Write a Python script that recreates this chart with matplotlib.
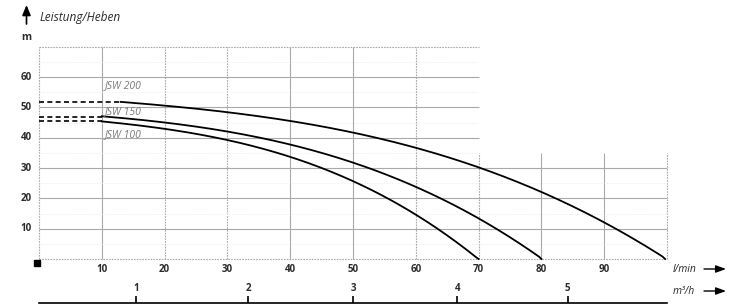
import numpy as np
import matplotlib
matplotlib.use("Agg")
import matplotlib.pyplot as plt

W, H = 740, 308

# pump curves: flow (l/min) vs head (m)
JSW200_DASH_X = [0, 13]
JSW200_DASH_Y = [51.7, 51.7]
JSW200_X = [13, 20, 30, 40, 50, 60, 70, 80, 90, 99.7]
JSW200_Y = [51.7, 50.6, 48.6, 45.6, 41.6, 36.5, 30.0, 22.2, 12.5, 0]

JSW150_DASH_X = [0, 10]
JSW150_DASH_Y = [46.9, 46.9]
JSW150_X = [10, 20, 30, 40, 50, 60, 70, 80]
JSW150_Y = [46.9, 45.3, 42.1, 37.6, 31.5, 23.8, 13.8, 0]

JSW100_DASH_X = [0, 10]
JSW100_DASH_Y = [45.5, 45.5]
JSW100_X = [10, 20, 30, 40, 50, 60, 70]
JSW100_Y = [45.5, 42.6, 39.3, 34.0, 25.5, 14.5, 0]

LABELS = ["JSW 200", "JSW 150", "JSW 100"]
LABEL_Y = [57.3, 48.7, 41.0]

X_TICKS = [10, 20, 30, 40, 50, 60, 70, 80, 90]
Y_TICKS = [10, 20, 30, 40, 50, 60]
M3H_POS = [15.4, 33.3, 50.0, 66.6, 84.2]
M3H_LABELS = ["1", "2", "3", "4", "5"]

FONT = "Open Sans"
GRID = "#a9a9a9"
TXT = "#2b2b2b"


def fx(px):
    return px / W


def fy(py):
    return 1 - py / H


fig = plt.figure(figsize=(W / 100, H / 100), dpi=100)
ax = fig.add_axes([fx(39), fy(259), (667 - 39) / W, (259 - 46.7) / H])
ax.set_xlim(0, 100)
ax.set_ylim(0, 70)
ax.axis("off")

# grid: L-shaped area
dotted_x = {0, 20, 30, 60, 70, 100}
for x in range(0, 101, 10):
    top = 70 if x <= 60 else 35
    ls = (0, (1.5, 1)) if x in dotted_x else "-"
    ax.vlines(x, 0, top, color=GRID, lw=0.8, linestyles=ls, clip_on=False)
for y in range(0, 71, 10):
    right = 100 if y <= 30 else 70
    ls = (0, (1.5, 1)) if y in (0, 70) else "-"
    ax.hlines(y, 0, right, color=GRID, lw=0.8, linestyles=ls, clip_on=False)
for y in range(5, 70, 10):
    right = 100 if y <= 30 else 70
    ax.hlines(y, 0, right, color="#e4e4e4", lw=0.6, linestyles=(0, (1, 2)), clip_on=False)

# curves
for dx, dy, sx, sy in [
    (JSW200_DASH_X, JSW200_DASH_Y, JSW200_X, JSW200_Y),
    (JSW150_DASH_X, JSW150_DASH_Y, JSW150_X, JSW150_Y),
    (JSW100_DASH_X, JSW100_DASH_Y, JSW100_X, JSW100_Y),
]:
    ax.plot(dx, dy, color="black", lw=1.2, dashes=(3, 2), clip_on=False)
    xs = np.linspace(sx[0], sx[-1], 200)
    # smooth through the read points with a cubic fit
    coef = np.polyfit(sx, sy, 3)
    ys = np.polyval(coef, xs)
    ys[-1] = 0
    ax.plot(xs, ys, color="black", lw=1.3, clip_on=False)

for lab, ly in zip(LABELS, LABEL_Y):
    ax.text(10.5, ly, lab, fontsize=7.5, style="italic", color="#7a7a7a",
            family=FONT, va="center", ha="left")

for x in X_TICKS:
    fig.text(fx(39 + 6.28 * x), fy(269), str(x), fontsize=7, fontweight="bold",
             color=TXT, family=FONT, ha="center", va="center")
for y in Y_TICKS:
    fig.text(fx(32), fy(259 - 3.033 * y), str(y), fontsize=7, fontweight="bold",
             color=TXT, family=FONT, ha="right", va="center")
fig.text(fx(26.5), fy(37.5), "m", fontsize=7.5, fontweight="bold", color=TXT,
         family=FONT, ha="center", va="center")

# origin marker
fig.patches.append(plt.Rectangle((fx(34), fy(266)), 6 / W, 6 / H, color="black",
                                 transform=fig.transFigure, figure=fig))

# y-axis title with arrow
fig.text(fx(39), fy(18), "Leistung/Heben", fontsize=8.6, style="italic",
         color=TXT, family=FONT, ha="left", va="center")
fig.add_artist(matplotlib.patches.FancyArrowPatch(
    (fx(26.5), fy(24)), (fx(26.5), fy(5)), transform=fig.transFigure,
    arrowstyle="-|>,head_length=6,head_width=2.5", lw=1.2, color="black",
    shrinkA=0, shrinkB=0))

# secondary flow axis in m3/h
ax2 = fig.add_axes([fx(39), fy(302.7), (667 - 39) / W, 0.0001])
ax2.set_xlim(0, 100)
ax2.set_yticks([])
for s in ["left", "right", "bottom"]:
    ax2.spines[s].set_visible(False)
ax2.spines["top"].set_linewidth(1.2)
ax2.set_xticks(M3H_POS)
ax2.set_xticklabels(M3H_LABELS)
ax2.tick_params(axis="x", top=True, bottom=False, labeltop=True, labelbottom=False,
                direction="out", length=5, width=1.2, pad=1, labelsize=7,
                labelcolor=TXT)
for t in ax2.get_xticklabels():
    t.set_fontweight("bold")
    t.set_family(FONT)

# units with arrows
for py, unit in [(269, "l/min"), (291, "m³/h")]:
    fig.text(fx(673), fy(py), unit, fontsize=7.5, style="italic", color=TXT,
             family=FONT, ha="left", va="center")
    fig.add_artist(matplotlib.patches.FancyArrowPatch(
        (fx(704), fy(py)), (fx(726), fy(py)), transform=fig.transFigure,
        arrowstyle="-|>,head_length=6,head_width=2.2", lw=1.0, color="black",
        shrinkA=0, shrinkB=0))

fig.savefig("out.png", dpi=100)
